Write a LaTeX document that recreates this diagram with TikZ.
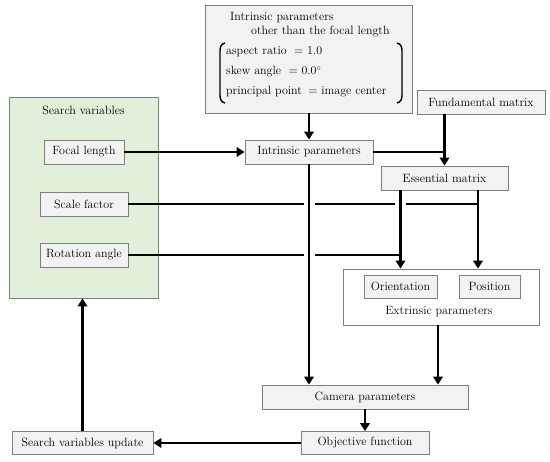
\documentclass[tikz,border=0pt]{standalone}
\usetikzlibrary{arrows.meta}
\definecolor{boxfill}{HTML}{F2F2F2}
\definecolor{boxline}{HTML}{7F7F7F}
\definecolor{greenfill}{HTML}{E2EFDA}
\begin{document}
\begin{tikzpicture}[x=1pt,y=-1pt,
  every node/.style={font=\fontsize{12}{14}\selectfont},
  gbox/.style={draw=boxline, fill=boxfill, line width=0.8pt, inner sep=0pt, rectangle},
  wbox/.style={draw=boxline, fill=white, line width=0.8pt, inner sep=0pt, rectangle},
  conn/.style={line width=2.7pt},
  arr/.style={conn, -{Triangle[width=9.5pt,length=8pt]}},
  gap/.style={white, line width=4.5pt},
  txt/.style={inner sep=0pt, anchor=base west},
  brk/.style={line width=1.4pt}
]
\useasboundingbox (0,0) rectangle (550,462);

% top box
\node[gbox, minimum width=207pt, minimum height=108pt] (top) at (308.5,59) {};
\node[txt] (t1) at (230,20.5) {Intrinsic parameters};
\node[txt] (t2) at (251,34.5) {other than the focal length};
\node[txt] (t3) at (226,54.5) {aspect ratio};
\node[txt] (t3b) at ([xshift=7pt]t3.base east) {= 1.0};
\node[txt] (t4) at (226,74.5) {skew angle};
\node[txt] (t4b) at ([xshift=7pt]t4.base east) {= 0.0$^{\circ}$};
\node[txt] (t5) at (226,94.5) {principal point};
\node[txt] (t5b) at ([xshift=6pt]t5.base east) {= image center};
\draw[brk] (225,43) .. controls (221,44) and (220,47) .. (220,51) -- (220,95) .. controls (220,99) and (221,102) .. (225,103);
\draw[brk] (397,43) .. controls (401,44) and (402,47) .. (402,51) -- (402,95) .. controls (402,99) and (401,102) .. (397,103);

% search variables
\node[draw=boxline, fill=greenfill, line width=0.8pt, minimum width=149pt, minimum height=201pt, inner sep=0pt] (sv) at (83.5,197.5) {};
\node (svt) at (83.5,110) {Search variables};
\node[gbox, minimum width=80pt, minimum height=24pt] (fl) at (84,152) {Focal length};
\node[gbox, minimum width=88pt, minimum height=24pt] (sf) at (84,204) {Scale factor};
\node[gbox, minimum width=88pt, minimum height=24pt] (ra) at (84,255) {Rotation angle};

% other boxes
\node[gbox, minimum width=128pt, minimum height=24pt] (fm) at (481,102) {Fundamental matrix};
\node[gbox, minimum width=128pt, minimum height=24pt] (ip) at (309,152) {Intrinsic parameters};
\node[gbox, minimum width=127pt, minimum height=24pt] (em) at (444.5,178) {Essential matrix};
\node[wbox, minimum width=196pt, minimum height=56pt] (ext) at (441,297) {};
\node[gbox, minimum width=73pt, minimum height=23pt] (ori) at (400.5,286.5) {Orientation};
\node[gbox, minimum width=61pt, minimum height=23pt] (pos) at (489.5,286.5) {Position};
\node (extt) at (439,312) {Extrinsic parameters};
\node[gbox, minimum width=206pt, minimum height=24pt] (cam) at (365,397) {Camera parameters};
\node[gbox, minimum width=128pt, minimum height=23pt] (obj) at (365,443) {Objective function};
\node[gbox, minimum width=141pt, minimum height=23pt] (svu) at (82.5,443) {Search variables update};

\coordinate (pj) at (478,204);
\coordinate (ex) at (438,325);

% connectors
\draw[arr] (ip.north |- top.south) -- (ip.north);
\draw[arr] (fl.east) -- (ip.west);
\draw[arr] (em.north |- fm.south) -- (em.north);
\draw[conn] (ip.east) -- (ip.east -| em.north);

\draw[conn] (sf.east) -- (pj);
\draw[gap] (303.5,204) -- (314.5,204);
\draw[gap] (395,204) -- (406,204);
\draw[arr] (em.south -| ori.north) -- (ori.north |- ext.north);
\draw[conn] (ra.east) -- (ra.east -| ori.north);
\draw[gap] (303.5,255) -- (314.5,255);
\draw[arr] (ip.south) -- (ip.south |- cam.north);
\draw[arr] (em.south -| pj) -- (pj |- ext.north);

\draw[arr] (ex) -- (ex |- cam.north);
\draw[arr] (cam.south) -- (obj.north);
\draw[arr] (obj.west) -- (svu.east);
\draw[arr] (svu.north) -- (svu.north |- sv.south);
\end{tikzpicture}
\end{document}
